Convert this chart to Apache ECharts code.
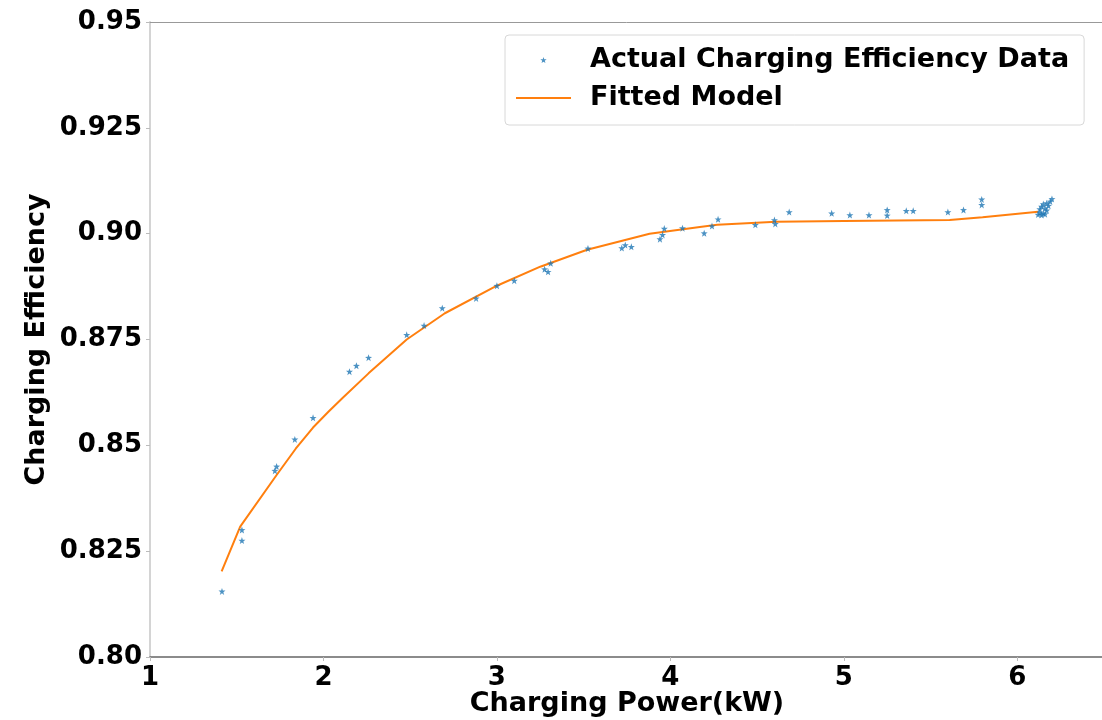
<!DOCTYPE html>
<html>
<head>
<meta charset="utf-8">
<script src="https://cdn.jsdelivr.net/npm/echarts@6/dist/echarts.min.js"></script>
<style>
  html, body { margin: 0; padding: 0; background: #fff; }
  #chart { width: 1102px; height: 720px; }
</style>
</head>
<body>
<div id="chart"></div>
<script>
// ---- Data ----
const actualPower = [
  1.415, 1.53, 1.53, 1.72, 1.73, 1.835, 1.94, 2.15, 2.19, 2.26,
  2.48, 2.58, 2.685, 2.88, 3.00, 3.10, 3.275, 3.295, 3.31, 3.525,
  3.72, 3.74, 3.775, 3.94, 3.955, 3.965, 4.07, 4.195, 4.24, 4.275,
  4.49, 4.60, 4.605, 4.685, 4.93, 5.035, 5.145, 5.25, 5.25, 5.36,
  5.40, 5.60, 5.69, 5.795, 5.795,
  6.12, 6.13, 6.13, 6.14, 6.15, 6.15, 6.16, 6.17, 6.17, 6.18,
  6.19, 6.20, 6.14, 6.16
];
const actualEfficiency = [
  0.8155, 0.8300, 0.8275, 0.8440, 0.8450, 0.8514, 0.8565, 0.8674, 0.8688, 0.8707,
  0.8761, 0.8783, 0.8824, 0.8847, 0.8877, 0.8889, 0.8916, 0.8910, 0.8930, 0.8965,
  0.8966, 0.8973, 0.8969, 0.8987, 0.8997, 0.9012, 0.9013, 0.9001, 0.9018, 0.9034,
  0.9021, 0.9032, 0.9023, 0.9051, 0.9048, 0.9044, 0.9044, 0.9056, 0.9043, 0.9054,
  0.9054, 0.9051, 0.9056, 0.9081, 0.9068,
  0.9045, 0.9050, 0.9058, 0.9064, 0.9070, 0.9048, 0.9060, 0.9072, 0.9055, 0.9066,
  0.9076, 0.9082, 0.9044, 0.9046
];
const fittedPower = [
  1.413, 1.52, 1.73, 1.84, 1.94, 2.03, 2.11, 2.26, 2.48, 2.70,
  3.00, 3.25, 3.52, 3.88, 4.17, 4.27, 4.61, 5.00, 5.61, 5.80, 6.12
];
const fittedEfficiency = [
  0.8202, 0.8308, 0.8430, 0.8492, 0.8542, 0.8580, 0.8612, 0.8670, 0.8750, 0.8812,
  0.8877, 0.8922, 0.8962, 0.9000, 0.9016, 0.9021, 0.9028, 0.9030, 0.9032, 0.9039, 0.9052
];
const yTickValues = [0.80, 0.825, 0.85, 0.875, 0.90, 0.925, 0.95];
const yTickLabels = ['0.80', '0.825', '0.85', '0.875', '0.90', '0.925', '0.95'];
const xTickValues = [1, 2, 3, 4, 5, 6];
const xTickLabels = ['1', '2', '3', '4', '5', '6'];
const seriesNames = ['Actual Charging Efficiency Data', 'Fitted Model'];
const axisNames = { x: 'Charging Power(kW)', y: 'Charging Efficiency' };

const FONT = "'DejaVu Sans', sans-serif";
const STAR = 'path://M0,-10 L2.35,-3.24 L9.51,-3.09 L3.8,1.24 L5.88,8.09 L0,4 L-5.88,8.09 L-3.8,1.24 L-9.51,-3.09 L-2.35,-3.24 Z';

function labelFor(values, labels, v) {
  for (let i = 0; i < values.length; i++) {
    if (Math.abs(values[i] - v) < 1e-6) return labels[i];
  }
  return '';
}

const chart = echarts.init(document.getElementById('chart'), null, { renderer: 'canvas' });
chart.setOption({
  animation: false,
  backgroundColor: '#ffffff',
  grid: { left: 150, right: -2, top: 22, bottom: 63, containLabel: false, outerBoundsMode: 'none' },
  legend: {
    orient: 'vertical',
    left: 505,
    top: 35,
    padding: [10, 15, 12, 10],
    itemWidth: 55,
    itemHeight: 6,
    itemGap: 8,
    borderColor: '#d8d8d8',
    borderWidth: 1,
    borderRadius: 4,
    backgroundColor: '#ffffff',
    textStyle: { fontFamily: FONT, fontWeight: 'bold', fontSize: 27, color: '#000', lineHeight: 30, padding: [0, 0, 0, 14] },
    data: [
      { name: seriesNames[0], icon: STAR },
      { name: seriesNames[1], itemStyle: { opacity: 0 } }
    ]
  },
  xAxis: [{
    type: 'value',
    min: 1,
    max: 6.5,
    interval: 1,
    name: axisNames.x,
    nameLocation: 'middle',
    nameGap: 33,
    nameMoveOverlap: false,
    nameTextStyle: { fontFamily: FONT, fontWeight: 'bold', fontSize: 27, color: '#000' },
    axisLine: { show: true, lineStyle: { color: '#666', width: 1.5 } },
    axisTick: { show: true, length: 4, lineStyle: { color: '#bbb' } },
    splitLine: { show: false },
    axisLabel: {
      showMaxLabel: false,
      margin: 8,
      fontFamily: FONT, fontWeight: 'bold', fontSize: 26, color: '#000',
      formatter: v => labelFor(xTickValues, xTickLabels, v)
    }
  }, {
    type: 'value',
    position: 'top',
    min: 1,
    max: 6.5,
    axisLine: { show: true, lineStyle: { color: '#999', width: 1 } },
    axisTick: { show: false },
    axisLabel: { show: false },
    splitLine: { show: false }
  }],
  yAxis: {
    type: 'value',
    min: 0.80,
    max: 0.95,
    interval: 0.025,
    name: axisNames.y,
    nameLocation: 'middle',
    nameGap: 100,
    nameMoveOverlap: false,
    nameTextStyle: { fontFamily: FONT, fontWeight: 'bold', fontSize: 27, color: '#000' },
    axisLine: { show: true, lineStyle: { color: '#d4d4d4', width: 2 } },
    axisTick: { show: true, length: 4, lineStyle: { color: '#bbb' } },
    splitLine: { show: false },
    axisLabel: {
      margin: 8,
      fontFamily: FONT, fontWeight: 'bold', fontSize: 26, color: '#000',
      formatter: v => labelFor(yTickValues, yTickLabels, v)
    }
  },
  series: [
    {
      name: seriesNames[1],
      type: 'line',
      xAxisIndex: 0,
      data: fittedPower.map((x, i) => [x, fittedEfficiency[i]]),
      symbol: 'none',
      smooth: false,
      lineStyle: { color: '#ff7f0e', width: 2 },
      itemStyle: { color: '#ff7f0e' },
      z: 2
    },
    {
      name: seriesNames[0],
      type: 'scatter',
      xAxisIndex: 0,
      data: actualPower.map((x, i) => [x, actualEfficiency[i]]),
      symbol: STAR,
      symbolSize: 7,
      itemStyle: { color: '#1f77b4' },
      z: 3
    }
  ]
});
</script>
</body>
</html>
